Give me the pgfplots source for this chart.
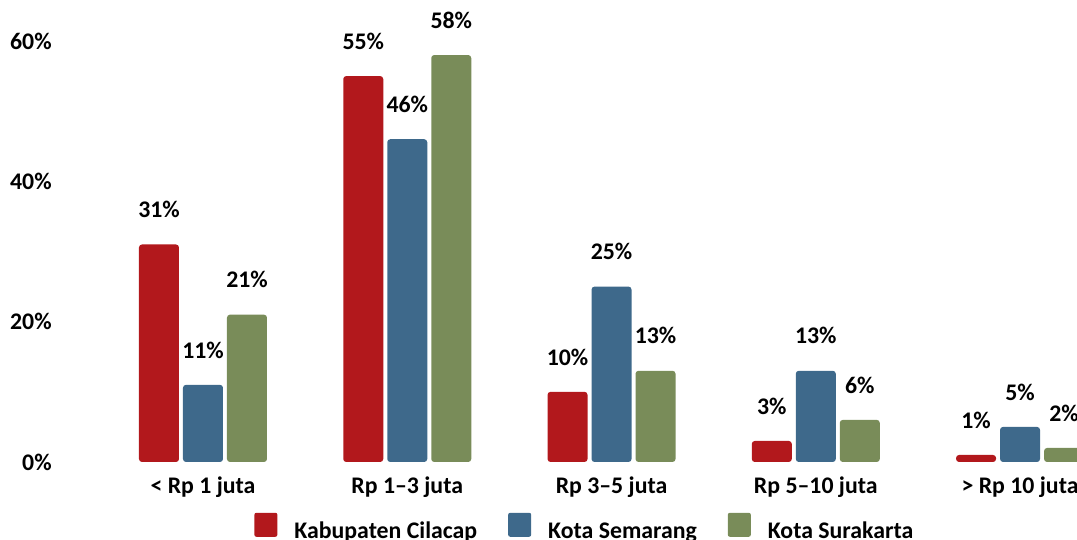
\documentclass[border=0pt]{standalone}
\usepackage{fontspec}
\setmainfont{Carlito}
\usepackage{pgfplots}
\pgfplotsset{compat=1.18}
\definecolor{cred}{RGB}{178,24,28}
\definecolor{cblue}{RGB}{62,105,139}
\definecolor{cgreen}{RGB}{121,140,89}
\newcommand{\lbl}{\bfseries\fontsize{11.9}{14}\selectfont}
\begin{document}
\begin{tikzpicture}
\path[use as bounding box] (0,0) rectangle (538.5pt,270pt);
\clip (0,0) rectangle (538.5pt,270pt);
\begin{axis}[
  at={(30pt,39pt)}, anchor=south west,
  scale only axis, width=531.1pt, height=210.5pt,
  xmin=-0.7, xmax=4.5, ymin=0, ymax=60,
  clip=false,
  axis line style={draw=none},
  major tick length=0pt,
  ybar=2pt, bar width=20pt,
  xtick={0,1,2,3,4},
  xticklabels={{< Rp 1 juta},{Rp 1–3 juta},{Rp 3–5 juta},{Rp 5–10 juta},{> Rp 10 juta}},
  ytick={0,20,40,60},
  yticklabel={\pgfmathprintnumber{\tick}\%},
  /pgf/number format/assume math mode=true,
  tick label style={font=\lbl},
  xticklabel style={anchor=base, yshift=-16pt, inner sep=0pt},
  yticklabel style={anchor=east, inner sep=0pt, xshift=-4pt},
  nodes near coords={\pgfmathprintnumber{\pgfplotspointmeta}\%},
  nodes near coords style={font=\lbl, anchor=base, inner sep=0pt, yshift=13.4pt, text=black},
  legend columns=3,
  legend style={draw=none, fill=none, at={(0,0)}, anchor=west, xshift=97pt, yshift=-32.6pt, inner sep=0pt,
    nodes={inner sep=0pt, font=\lbl},
    /tikz/every odd column/.append style={column sep=8.5pt},
    /tikz/every even column/.append style={column sep=15.5pt}},
  legend image code/.code={\fill[#1, rounded corners=1pt] (0pt,-2.5pt) rectangle (11.5pt,9.5pt);},
]
\addplot[fill=cred, draw=none, rounded corners=1.5pt] coordinates {(0,31) (1,55) (2,10) (3,3) (4,1)};
\addplot[fill=cblue, draw=none, rounded corners=1.5pt] coordinates {(0,11) (1,46) (2,25) (3,13) (4,5)};
\addplot[fill=cgreen, draw=none, rounded corners=1.5pt] coordinates {(0,21) (1,58) (2,13) (3,6) (4,2)};
\legend{Kabupaten Cilacap, Kota Semarang, Kota Surakarta}
\end{axis}
\end{tikzpicture}
\end{document}
